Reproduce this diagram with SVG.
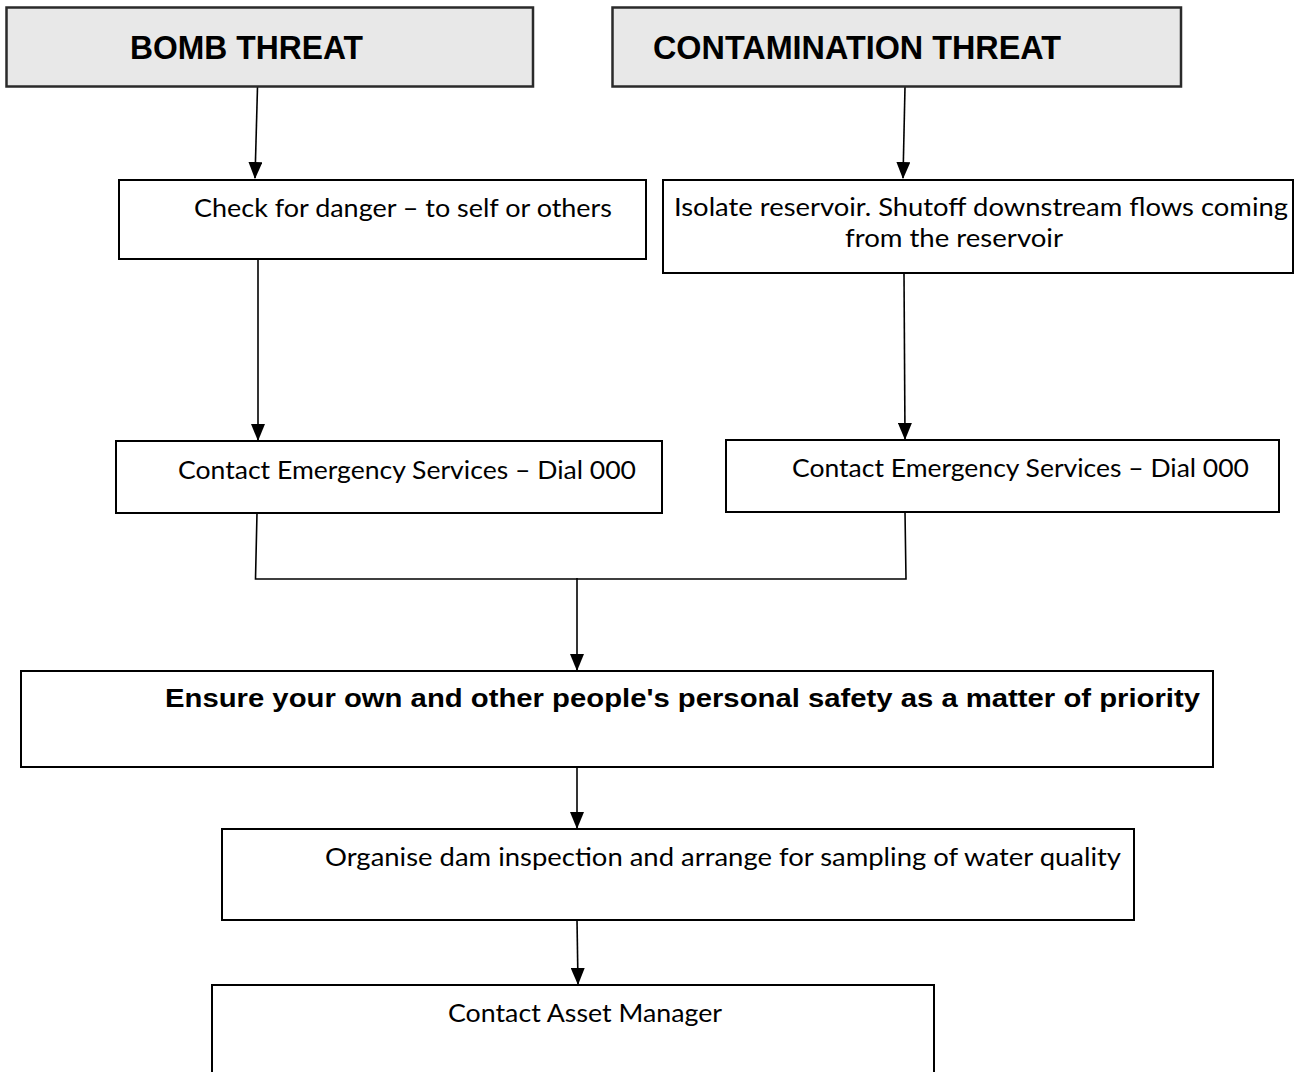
<svg xmlns="http://www.w3.org/2000/svg" width="1305" height="1072" viewBox="0 0 1305 1072">
<style>
.hdr{fill:#e8e8e8;stroke:#2a2a2a;stroke-width:2.5}
.box{fill:#ffffff;stroke:#000000;stroke-width:2}
.ht{font-family:"Liberation Sans",Arial,sans-serif;font-weight:bold;font-size:33px;fill:#000}
.bt{font-family:"Liberation Sans",Arial,sans-serif;font-weight:bold;font-size:25px;fill:#000}
.t{font-family:Lato,"Open Sans",sans-serif;font-size:25px;fill:#000}
.c{fill:none;stroke:#000;stroke-width:1.6}
</style>
<defs>
<marker id="ah" markerUnits="userSpaceOnUse" markerWidth="17" markerHeight="14" viewBox="0 0 17 14" refX="16" refY="7" orient="auto">
<path d="M0,0 L17,7 L0,14 Z" fill="#000"/>
</marker>
</defs>
<rect width="1305" height="1072" fill="#ffffff"/>
<g id="connectors">
<line class="c" x1="257.5" y1="87" x2="255" y2="178" marker-end="url(#ah)"/>
<line class="c" x1="905" y1="87" x2="903" y2="178" marker-end="url(#ah)"/>
<line class="c" x1="258" y1="259" x2="258" y2="440" marker-end="url(#ah)"/>
<line class="c" x1="904" y1="273" x2="905" y2="439" marker-end="url(#ah)"/>
<polyline class="c" points="257,513 255.5,579 906,579 905,512"/>
<line class="c" x1="577" y1="578" x2="577" y2="670" marker-end="url(#ah)"/>
<line class="c" x1="577" y1="767" x2="577" y2="828" marker-end="url(#ah)"/>
<line class="c" x1="577" y1="920" x2="578" y2="984" marker-end="url(#ah)"/>
</g>
<g id="bomb">
<rect class="hdr" x="6.5" y="7.5" width="526.5" height="79"/>
<text class="ht" x="130" y="59" textLength="233" lengthAdjust="spacingAndGlyphs">BOMB THREAT</text>
</g>
<g id="contamination">
<rect class="hdr" x="612.5" y="7.5" width="568.5" height="79"/>
<text class="ht" x="653" y="59" textLength="408" lengthAdjust="spacingAndGlyphs">CONTAMINATION THREAT</text>
</g>
<g id="check">
<rect class="box" x="119" y="180" width="527" height="79"/>
<text class="t" x="194" y="217" textLength="418" lengthAdjust="spacingAndGlyphs">Check for danger – to self or others</text>
</g>
<g id="isolate">
<rect class="box" x="663" y="180" width="630" height="93"/>
<text class="t" x="674" y="216" textLength="614" lengthAdjust="spacingAndGlyphs">Isolate reservoir. Shutoff downstream flows coming</text>
<text class="t" x="845" y="247" textLength="218" lengthAdjust="spacingAndGlyphs">from the reservoir</text>
</g>
<g id="contact-left">
<rect class="box" x="116" y="441" width="546" height="72"/>
<text class="t" x="178" y="479" textLength="458" lengthAdjust="spacingAndGlyphs">Contact Emergency Services – Dial 000</text>
</g>
<g id="contact-right">
<rect class="box" x="726" y="440" width="553" height="72"/>
<text class="t" x="792" y="477" textLength="457" lengthAdjust="spacingAndGlyphs">Contact Emergency Services – Dial 000</text>
</g>
<g id="ensure">
<rect class="box" x="21" y="671" width="1192" height="96"/>
<text class="bt" x="165" y="707" textLength="1035" lengthAdjust="spacingAndGlyphs">Ensure your own and other people's personal safety as a matter of priority</text>
</g>
<g id="organise">
<rect class="box" x="222" y="829" width="912" height="91"/>
<text class="t" x="325" y="866" textLength="796" lengthAdjust="spacingAndGlyphs">Organise dam inspection and arrange for sampling of water quality</text>
</g>
<g id="asset">
<rect class="box" x="212" y="985" width="722" height="110"/>
<text class="t" x="448" y="1022" textLength="274" lengthAdjust="spacingAndGlyphs">Contact Asset Manager</text>
</g>
</svg>
